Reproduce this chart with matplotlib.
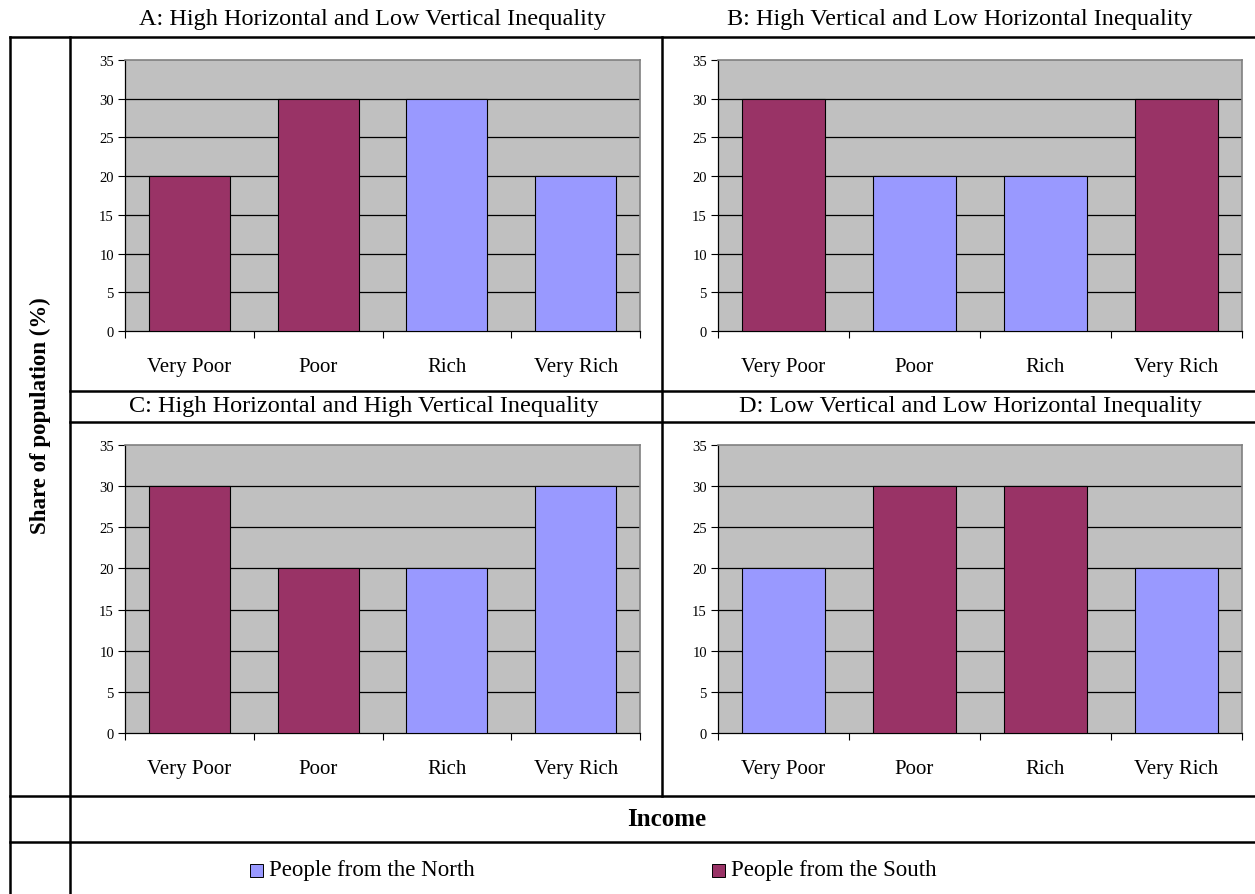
import numpy as np
import matplotlib.pyplot as plt
from matplotlib.lines import Line2D
from matplotlib.patches import Rectangle

plt.rcParams['font.family'] = ['Liberation Serif', 'DejaVu Serif']

# income groups and population shares (%) for each scenario
categories = ['Very Poor', 'Poor', 'Rich', 'Very Rich']
titles = ['A: High Horizontal and Low Vertical Inequality',
          'B: High Vertical and Low Horizontal Inequality',
          'C: High Horizontal and High Vertical Inequality',
          'D: Low Vertical and Low Horizontal Inequality']
shares_A = [20, 30, 30, 20]
shares_B = [30, 20, 20, 30]
shares_C = [30, 20, 20, 30]
shares_D = [20, 30, 30, 20]
# which group each bar belongs to
groups_A = ['South', 'South', 'North', 'North']
groups_B = ['South', 'North', 'North', 'South']
groups_C = ['South', 'South', 'North', 'North']
groups_D = ['North', 'South', 'South', 'North']
legend_labels = ['People from the North', 'People from the South']

col = {'North': '#9999FF', 'South': '#993366'}

W, H = 1255, 895
fig = plt.figure(figsize=(W/100, H/100), dpi=100)

def box(x0, y0, x1, y1):
    # pixel box (top-left origin) -> figure fraction rect
    return [x0/W, 1-y1/H, (x1-x0)/W, (y1-y0)/H]

def hline(y, x0, x1):
    fig.add_artist(Line2D([x0/W, x1/W], [1-y/H, 1-y/H], color='k', lw=1.8))

def vline(x, y0, y1):
    fig.add_artist(Line2D([x/W, x/W], [1-y0/H, 1-y1/H], color='k', lw=1.8))

# table grid
hline(38, 10, W)
hline(392, 70, W)
hline(423, 70, W)
hline(797, 10, W)
hline(843, 10, W)
vline(10, 38, H)
vline(70, 38, H)
vline(662, 38, 797)

def panel(rect, vals, grps):
    ax = fig.add_axes(box(*rect))
    ax.set_facecolor('#C0C0C0')
    x = np.arange(len(categories))
    ax.bar(x, vals, width=0.63, color=[col[g] for g in grps],
           edgecolor='k', linewidth=0.8, zorder=3)
    ax.set_xlim(-0.5, 3.5)
    ax.set_ylim(0, 35)
    ax.set_yticks(np.arange(0, 36, 5))
    for v in range(5, 35, 5):
        ax.axhline(v, color='k', lw=0.9, zorder=1)
    ax.set_xticks(x)
    ax.set_xticklabels(categories, fontsize=15)
    ax.set_xticks(np.arange(-0.5, 4, 1), minor=True)
    ax.tick_params(axis='x', which='major', length=0, pad=19)
    ax.tick_params(axis='x', which='minor', length=5, width=0.8, direction='out')
    ax.tick_params(axis='y', length=5, width=0.8, labelsize=10.5, pad=3)
    for s in ['top', 'right']:
        ax.spines[s].set_color('#808080')
        ax.spines[s].set_linewidth(1.2)
    for s in ['left', 'bottom']:
        ax.spines[s].set_color('k')
        ax.spines[s].set_linewidth(0.9)
    return ax

panel((125, 61, 640, 332), shares_A, groups_A)
panel((718, 61, 1242, 332), shares_B, groups_B)
panel((125, 446, 640, 734), shares_C, groups_C)
panel((718, 446, 1242, 734), shares_D, groups_D)

tkw = dict(ha='center', va='center', fontsize=17.5)
fig.text(372/W, 1-19/H, titles[0], **tkw)
fig.text(960/W, 1-19/H, titles[1], **tkw)
fig.text(364/W, 1-407/H, titles[2], **tkw)
fig.text(970/W, 1-407/H, titles[3], **tkw)

fig.text(40/W, 1-416/H, 'Share of population (%)', rotation=90,
         ha='center', va='center', fontsize=16.5, fontweight='bold')
fig.text(667/W, 1-820/H, 'Income', ha='center', va='center',
         fontsize=18, fontweight='bold')

# legend row: swatch + label for each group
for (gx, g, lab) in [(250, 'North', legend_labels[0]),
                     (712, 'South', legend_labels[1])]:
    fig.add_artist(Rectangle((gx/W, 1-878/H), 13/W, 13/H, facecolor=col[g],
                             edgecolor='k', lw=0.7, transform=fig.transFigure))
    fig.text((gx+19)/W, 1-871/H, lab, ha='left', va='center', fontsize=16.5)

fig.savefig('out.png', dpi=100)
